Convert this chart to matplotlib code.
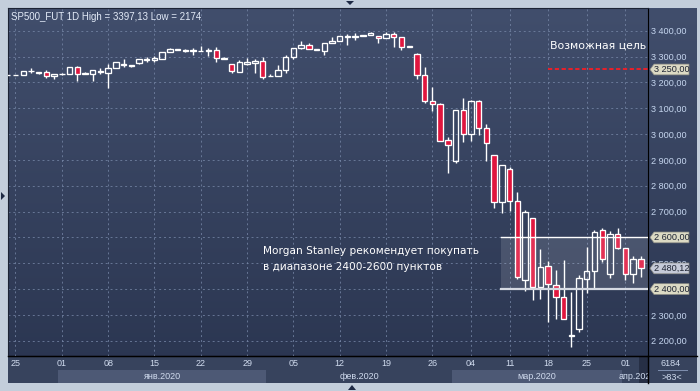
import numpy as np
import matplotlib
matplotlib.use('Agg')
import matplotlib.pyplot as plt
from matplotlib.patches import Rectangle, Polygon
from matplotlib.lines import Line2D
from matplotlib.colors import LinearSegmentedColormap

plt.rcParams['font.family'] = ['DejaVu Sans']

# daily bars SP500 futures, 25 dec 2019 .. 01 apr 2020
opens = [3228, 3229, 3228, 3244, 3238, 3239, 3224, 3231, 3231, 3259,
         3234, 3234, 3245, 3237, 3254, 3272, 3263, 3275, 3287, 3285,
         3292, 3316, 3324, 3323, 3320, 3321, 3320, 3324, 3292, 3270,
         3241, 3272, 3274, 3281, 3224, 3223, 3247, 3297, 3334, 3345,
         3324, 3323, 3351, 3359, 3374, 3377, 3378, 3382, 3379, 3370,
         3387, 3376, 3337, 3310, 3228, 3128, 3116, 2977, 2897, 3093,
         2999, 3128, 3022, 2918, 2736, 2863, 2740, 2437, 2674, 2409,
         2489, 2415, 2368, 2218, 2244, 2440, 2469, 2627, 2459, 2612,
         2558, 2459, 2516]
highs = [3229, 3230, 3243, 3254, 3241, 3248, 3231, 3237, 3258, 3263,
         3240, 3247, 3254, 3270, 3278, 3290, 3266, 3289, 3298, 3302,
         3316, 3333, 3329, 3330, 3333, 3342, 3334, 3336, 3297, 3270,
         3285, 3293, 3289, 3297, 3234, 3267, 3307, 3333, 3359, 3354,
         3328, 3351, 3374, 3378, 3387, 3390, 3385, 3395, 3379, 3394,
         3397, 3376, 3341, 3314, 3258, 3182, 3120, 2990, 3093, 3139,
         3131, 3133, 3039, 2918, 2879, 2872, 2775, 2707, 2674, 2555,
         2507, 2474, 2512, 2387, 2454, 2564, 2628, 2636, 2623, 2635,
         2558, 2528, 2530]
lows = [3228, 3228, 3228, 3235, 3234, 3218, 3212, 3228, 3231, 3206,
        3231, 3206, 3231, 3179, 3254, 3261, 3261, 3270, 3280, 3280,
        3292, 3316, 3324, 3319, 3307, 3320, 3302, 3280, 3290, 3235,
        3241, 3267, 3235, 3212, 3224, 3223, 3235, 3289, 3329, 3328,
        3324, 3306, 3351, 3359, 3346, 3365, 3378, 3382, 3354, 3370,
        3338, 3327, 3337, 3214, 3119, 3090, 2974, 2850, 2889, 2970,
        2974, 2996, 2897, 2715, 2696, 2703, 2439, 2392, 2357, 2361,
        2273, 2285, 2283, 2174, 2232, 2383, 2400, 2505, 2444, 2555,
        2437, 2425, 2447]
closes = [3229, 3229, 3243, 3246, 3241, 3224, 3231, 3233, 3258, 3232,
          3236, 3247, 3239, 3254, 3278, 3267, 3266, 3289, 3290, 3294,
          3316, 3328, 3328, 3325, 3325, 3322, 3326, 3293, 3294, 3243,
          3278, 3278, 3281, 3222, 3226, 3248, 3298, 3333, 3345, 3328,
          3328, 3351, 3360, 3378, 3381, 3379, 3383, 3390, 3370, 3387,
          3374, 3336, 3341, 3227, 3127, 3115, 2974, 2959, 3093, 2999,
          3127, 3022, 2966, 2736, 2879, 2740, 2448, 2700, 2409, 2484,
          2418, 2368, 2283, 2222, 2442, 2470, 2620, 2517, 2614, 2560,
          2457, 2516, 2480]

day_ticks = [1, 7, 13, 19, 25, 31, 37, 43, 49, 55, 60, 65, 70, 75, 80]
day_labels = ['25', '01', '08', '15', '22', '29', '05', '12', '19', '26',
              '04', '11', '18', '25', '01']
month_edges = [-0.5, 6.5, 33.5, 57.5, 79.5, 83.5]
month_labels = ['', 'янв.2020', 'фев.2020', 'мар.2020', 'апр.2020']

price_ticks = [2200, 2300, 2400, 2500, 2600, 2700, 2800, 2900, 3000, 3100,
               3200, 3300, 3400]
target_price = 3250
range_low, range_high = 2400, 2600
last_price = 2480.12

W, H = 700, 391
XMIN, XMAX = 0.03, 82.93
YMIN, YMAX = 2141, 3488


def fmt(v):
    return f'{v:,.2f}'.replace(',', ' ').replace('.', ',')


def fx(px):
    return px / W


def fy(py):
    return 1 - py / H


fig = plt.figure(figsize=(7, 3.91), dpi=100, facecolor='#c3cedb')

# background gradient of the chart window
bg = fig.add_axes([fx(8), fy(383), fx(689), (383 - 8) / H], zorder=0)
cmap = LinearSegmentedColormap.from_list('bg', ['#414e6c', '#2a3550'])
bg.imshow(np.linspace(0, 1, 256).reshape(-1, 1), cmap=cmap, aspect='auto',
          extent=[0, 1, 0, 1])
bg.set_axis_off()

# bottom date panel
axb = fig.add_axes([fx(8), fy(383), fx(640), 27 / H], zorder=1)
axb.set_xlim(XMIN, XMAX)
axb.set_ylim(0, 1)
axb.set_facecolor('#37435d')
for k in range(len(month_labels)):
    c = '#4d5975' if k % 2 == 1 else '#37435d'
    axb.add_patch(Rectangle((month_edges[k], 0), month_edges[k + 1] - month_edges[k], 0.48,
                            facecolor=c, edgecolor='none'))
    if month_labels[k]:
        axb.text((month_edges[k] + month_edges[k + 1]) / 2, 0.24, month_labels[k],
                 ha='center', va='center', fontsize=6.5, color='#d0dbee',
                 family='Liberation Sans', clip_on=True)
axb.add_patch(Rectangle((81.7, 0), 2, 1, facecolor='#262f45', edgecolor='none'))
axb.set_xticks([])
axb.set_yticks([])
for s in axb.spines.values():
    s.set_visible(False)

# main price chart
ax = fig.add_axes([fx(8), fy(356), fx(640), 348 / H], zorder=2)
ax.set_facecolor('none')
ax.set_xlim(XMIN, XMAX)
ax.set_ylim(YMIN, YMAX)

# labels under the 2400 / 2600 tags are hidden in the original
tick_texts = ['' if p in (range_low, range_high) else fmt(p) for p in price_ticks]
ax.set_yticks(price_ticks)
ax.set_yticklabels(tick_texts)
ax.yaxis.tick_right()
ax.tick_params(axis='y', length=0, pad=2.2, labelsize=6.6, labelcolor='#c6d6ef')
ax.set_xticks(day_ticks)
ax.set_xticklabels(day_labels)
ax.tick_params(axis='x', length=0, pad=2.5, labelsize=6.5, labelcolor='#d0dbee')
for lab in ax.get_xticklabels() + ax.get_yticklabels():
    lab.set_family('Liberation Sans')
ax.grid(True, color='#7585a5', ls=(0, (2, 3)), lw=0.7, alpha=0.8)
ax.set_axisbelow(True)
for side in ['left', 'top']:
    ax.spines[side].set_color('#1c2334')
    ax.spines[side].set_linewidth(0.8)
ax.spines['right'].set_color('black')
ax.spines['bottom'].set_color('black')

# candles
w = 0.7
for i in range(len(opens)):
    o, h, l, c = opens[i], highs[i], lows[i], closes[i]
    top, bot = max(o, c), min(o, c)
    ax.plot([i, i], [top, h], color='white', lw=1.0, solid_capstyle='butt', zorder=3)
    ax.plot([i, i], [l, bot], color='white', lw=1.0, solid_capstyle='butt', zorder=3)
    fc = '#e0163e' if c < o else 'none'
    ax.add_patch(Rectangle((i - w / 2, bot), w, max(top - bot, 0.5), facecolor=fc,
                           edgecolor='white', lw=0.95, zorder=4))

# buy range box
ax.add_patch(Rectangle((63.9, range_low), XMAX - 63.9, range_high - range_low,
                       facecolor='white', alpha=0.12, edgecolor='none', zorder=5))
ax.plot([63.9, XMAX], [range_high, range_high], color='white', lw=1.0, zorder=5)
ax.plot([63.9, XMAX], [range_low, range_low], color='#d5d9e2', lw=1.6, zorder=5)
ax.text(33.1, 2547, 'Morgan Stanley рекомендует покупать', color='white',
        fontsize=7.6, va='center', ha='left', zorder=6)
ax.text(33.1, 2485, 'в диапазоне 2400-2600 пунктов', color='white',
        fontsize=7.6, va='center', ha='left', zorder=6)

# target line
ax.plot([70.0, XMAX], [target_price, target_price], color='#e8202a', lw=1.4,
        ls=(0, (2.2, 1.3)), zorder=5)
ax.text(70.2, 3342, 'Возможная цель', color='white', fontsize=7.8, va='center',
        ha='left', zorder=6)

ax.text(0.4, 3453, 'SP500_FUT 1D High = 3397,13 Low = 2174', color='#e2eaf7',
        fontsize=7, va='center', ha='left', family='Liberation Sans', zorder=6)


# price tags on the right scale
def tag(price, fc):
    tr = ax.get_yaxis_transform()
    hh = 5.4 / 0.2583
    pts = [(1 + 2 / 640, price), (1 + 6 / 640, price + hh), (1 + 41 / 640, price + hh),
           (1 + 41 / 640, price - hh), (1 + 6 / 640, price - hh)]
    ax.add_patch(Polygon(pts, closed=True, transform=tr, facecolor=fc,
                         edgecolor='#8c8c84', lw=0.5, clip_on=False, zorder=7))
    ax.text(1 + 6.5 / 640, price, fmt(price), transform=tr, fontsize=6.6,
            color='#1e2433', va='center', ha='left', family='Liberation Sans',
            clip_on=False, zorder=8)


tag(target_price, '#dcdac4')
tag(range_high, '#dcdac4')
tag(range_low, '#dcdac4')
tag(last_price, '#c5cad8')

# bottom line across the price panel and the bottom right cell
fig.add_artist(Line2D([fx(8), fx(697)], [fy(356), fy(356)], color='black', lw=1))
fig.add_artist(Line2D([fx(648), fx(648)], [fy(356), fy(383)], color='black', lw=1))
fig.patches.append(Rectangle((fx(649), fy(383)), fx(48), 26 / H, transform=fig.transFigure,
                             facecolor='#37435d', edgecolor='none', zorder=1))
fig.text(fx(671), fy(364), '6184', fontsize=6.5, color='#d0dbee', ha='center',
         va='center', family='Liberation Sans')
fig.add_artist(Line2D([fx(658), fx(687)], [fy(370), fy(370)], color='#8090b0', lw=0.7))
fig.text(fx(672), fy(377), '>83<', fontsize=6.5, color='#d0dbee', ha='center',
         va='center', family='Liberation Sans')

# little arrows of the window frame
for pts in [[(346, 1), (354, 1), (350, 5)], [(348, 390), (356, 390), (352, 385)],
            [(1, 192), (1, 200), (5, 196)]]:
    fig.patches.append(Polygon([(fx(a), fy(b)) for a, b in pts], closed=True,
                               transform=fig.transFigure, facecolor='#1e2a44',
                               edgecolor='none'))

plt.savefig('out.png', dpi=100, facecolor=fig.get_facecolor())
